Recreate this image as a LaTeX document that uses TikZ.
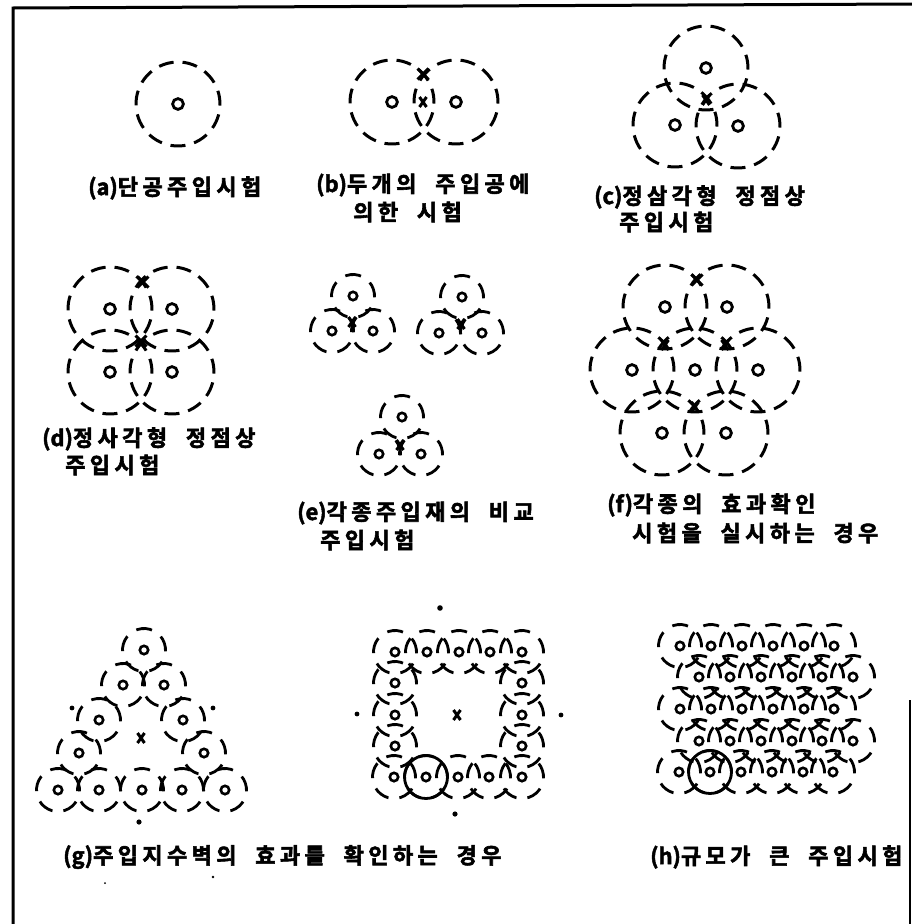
\documentclass[tikz,border=0pt]{standalone}
\usepackage{fontspec}
\newfontfamily\kr[LetterSpace=20,WordSpace=2,BoldFont={* Bold},BoldFeatures={FakeBold=2.6}]{Noto Sans CJK KR}
\newfontfamily\krz[BoldFont={* Bold},BoldFeatures={FakeBold=2.2}]{Noto Sans CJK KR}
\newcommand{\tg}[1]{{\krz\bfseries(#1)}}
\newcommand{\hl}[2]{% large hole: x y
  \draw[dsl,rotate around={8.18:(#1,#2)}] (#1,#2) circle (42);
  \draw[cen] (#1,#2) circle (5.4);}
\newcommand{\hs}[2]{% small hole
  \draw[dss,rotate around={18:(#1,#2)}] (#1,#2) circle (21.5);
  \draw[cens] (#1,#2) circle (4.2);}
\newcommand{\xm}[2]{\draw[mk] (#1-5.5,#2-5.5) -- (#1+5.5,#2+5.5) (#1+5.5,#2-5.5) -- (#1-5.5,#2+5.5);}
\newcommand{\xs}[2]{\draw[mk] (#1-3.5,#2-5) -- (#1+3.5,#2+5) (#1+3.5,#2-5) -- (#1-3.5,#2+5);}
\begin{document}
\begin{tikzpicture}[x=1pt,y=-1pt,line cap=butt,
  dsl/.style={line width=3pt,dash pattern=on 15pt off 8.99pt,dash phase=7.5pt},
  dss/.style={line width=2.8pt,dash pattern=on 16pt off 11.02pt,dash phase=8pt},
  cen/.style={line width=2.8pt},
  cens/.style={line width=2.6pt},
  mk/.style={line width=3pt},
  lab/.style={anchor=west,inner sep=0pt,font=\kr\bfseries\fontsize{22}{22}\selectfont}]
\useasboundingbox (0,0) rectangle (912,924);
% frame
\draw[line width=3pt] (13,924) -- (13,8) -- (912,4);
\draw[line width=2.4pt] (910,700) -- (910,924);
% (a)
\hl{178}{104}
% (b)
\hl{392}{102}\hl{456}{102}
\xm{423}{74}\xs{423}{102}
% (c)
\hl{706}{68}\hl{675}{125}\hl{738}{126}
\xs{706}{100}
% (d)
\hl{110}{309}\hl{172}{309}\hl{110}{372}\hl{172}{372}
\xm{143}{282}\xm{141}{341}
% (e)
\hs{353}{296}\hs{332}{331}\hs{373}{331}
\hs{462}{297}\hs{439}{333}\hs{482}{333}
\hs{402}{417}\hs{379}{454}\hs{421}{454}
\xs{352}{322}\xs{461}{324}\xs{400}{445}
% (f)
\hl{665}{307}\hl{727}{307}\hl{632}{370}\hl{695}{370}\hl{758}{370}\hl{662}{433}\hl{726}{433}
\xm{697}{280}\xs{665}{345}\xs{725}{345}\xs{695}{407}
% (g)
\foreach \p/\q in {144/650,123/685,164/685,99/720,183/720,79/753,204/753,58/790,99/790,142/790,182/790,225/790}{\hs{\p}{\q}}
\xs{141}{738}
\fill (72,708) circle (2.4) (213,708) circle (2.4) (139,822) circle (2.6);
\fill (105,883) circle (1) (213,877) circle (1.3);
% square
\foreach \p/\q in {395/652,427/652,459/652,490/652,522/652,395/683,395/715,395/746,394/777,426/777,458/777,489/777,522/777,522/683,522/715,522/746}{\hs{\p}{\q}}
\draw[line width=2.8pt] (426,777) circle (21.5);
\xs{457}{715}
\fill (440,608) circle (2.8) (357,714) circle (2.4) (561,715) circle (2.4) (455,814) circle (2.6);
% (h)
\foreach \q in {646,709}{\foreach \p in {680,711,742,773,804,834}{\hs{\p}{\q}}}
\foreach \q in {677,741}{\foreach \p in {699,730,761,792,822,853}{\hs{\p}{\q}}}
\foreach \p in {679,710,741,772,803,833}{\hs{\p}{772}}
\draw[line width=2.8pt] (710,772) circle (21.5);
% labels
\node[lab] (la) at (88,188) {\tg{a}단공주입시험};
\node[lab] (lb) at (316,185) {\tg{b}두개의 주입공에};
\node[lab] (lb2) at (353,212) {의한 시험};
\node[lab] (lc) at (594,197) {\tg{c}정삼각형 정점상};
\node[lab] (lc2) at (619,222) {주입시험};
\node[lab] (ld) at (42,439) {\tg{d}정사각형 정점상};
\node[lab] (ld2) at (65,465) {주입시험};
\node[lab] (le) at (297,513) {\tg{e}각종주입재의 비교};
\node[lab] (le2) at (320,540) {주입시험};
\node[lab] (lf) at (607,505) {\tg{f}각종의 효과확인};
\node[lab] (lf2) at (632,533) {시험을 실시하는 경우};
\node[lab] (lg) at (63,857) {\tg{g}주입지수벽의 효과를 확인하는 경우};
\node[lab] (lh) at (650,857) {\tg{h}규모가 큰 주입시험};
\end{tikzpicture}
\end{document}
